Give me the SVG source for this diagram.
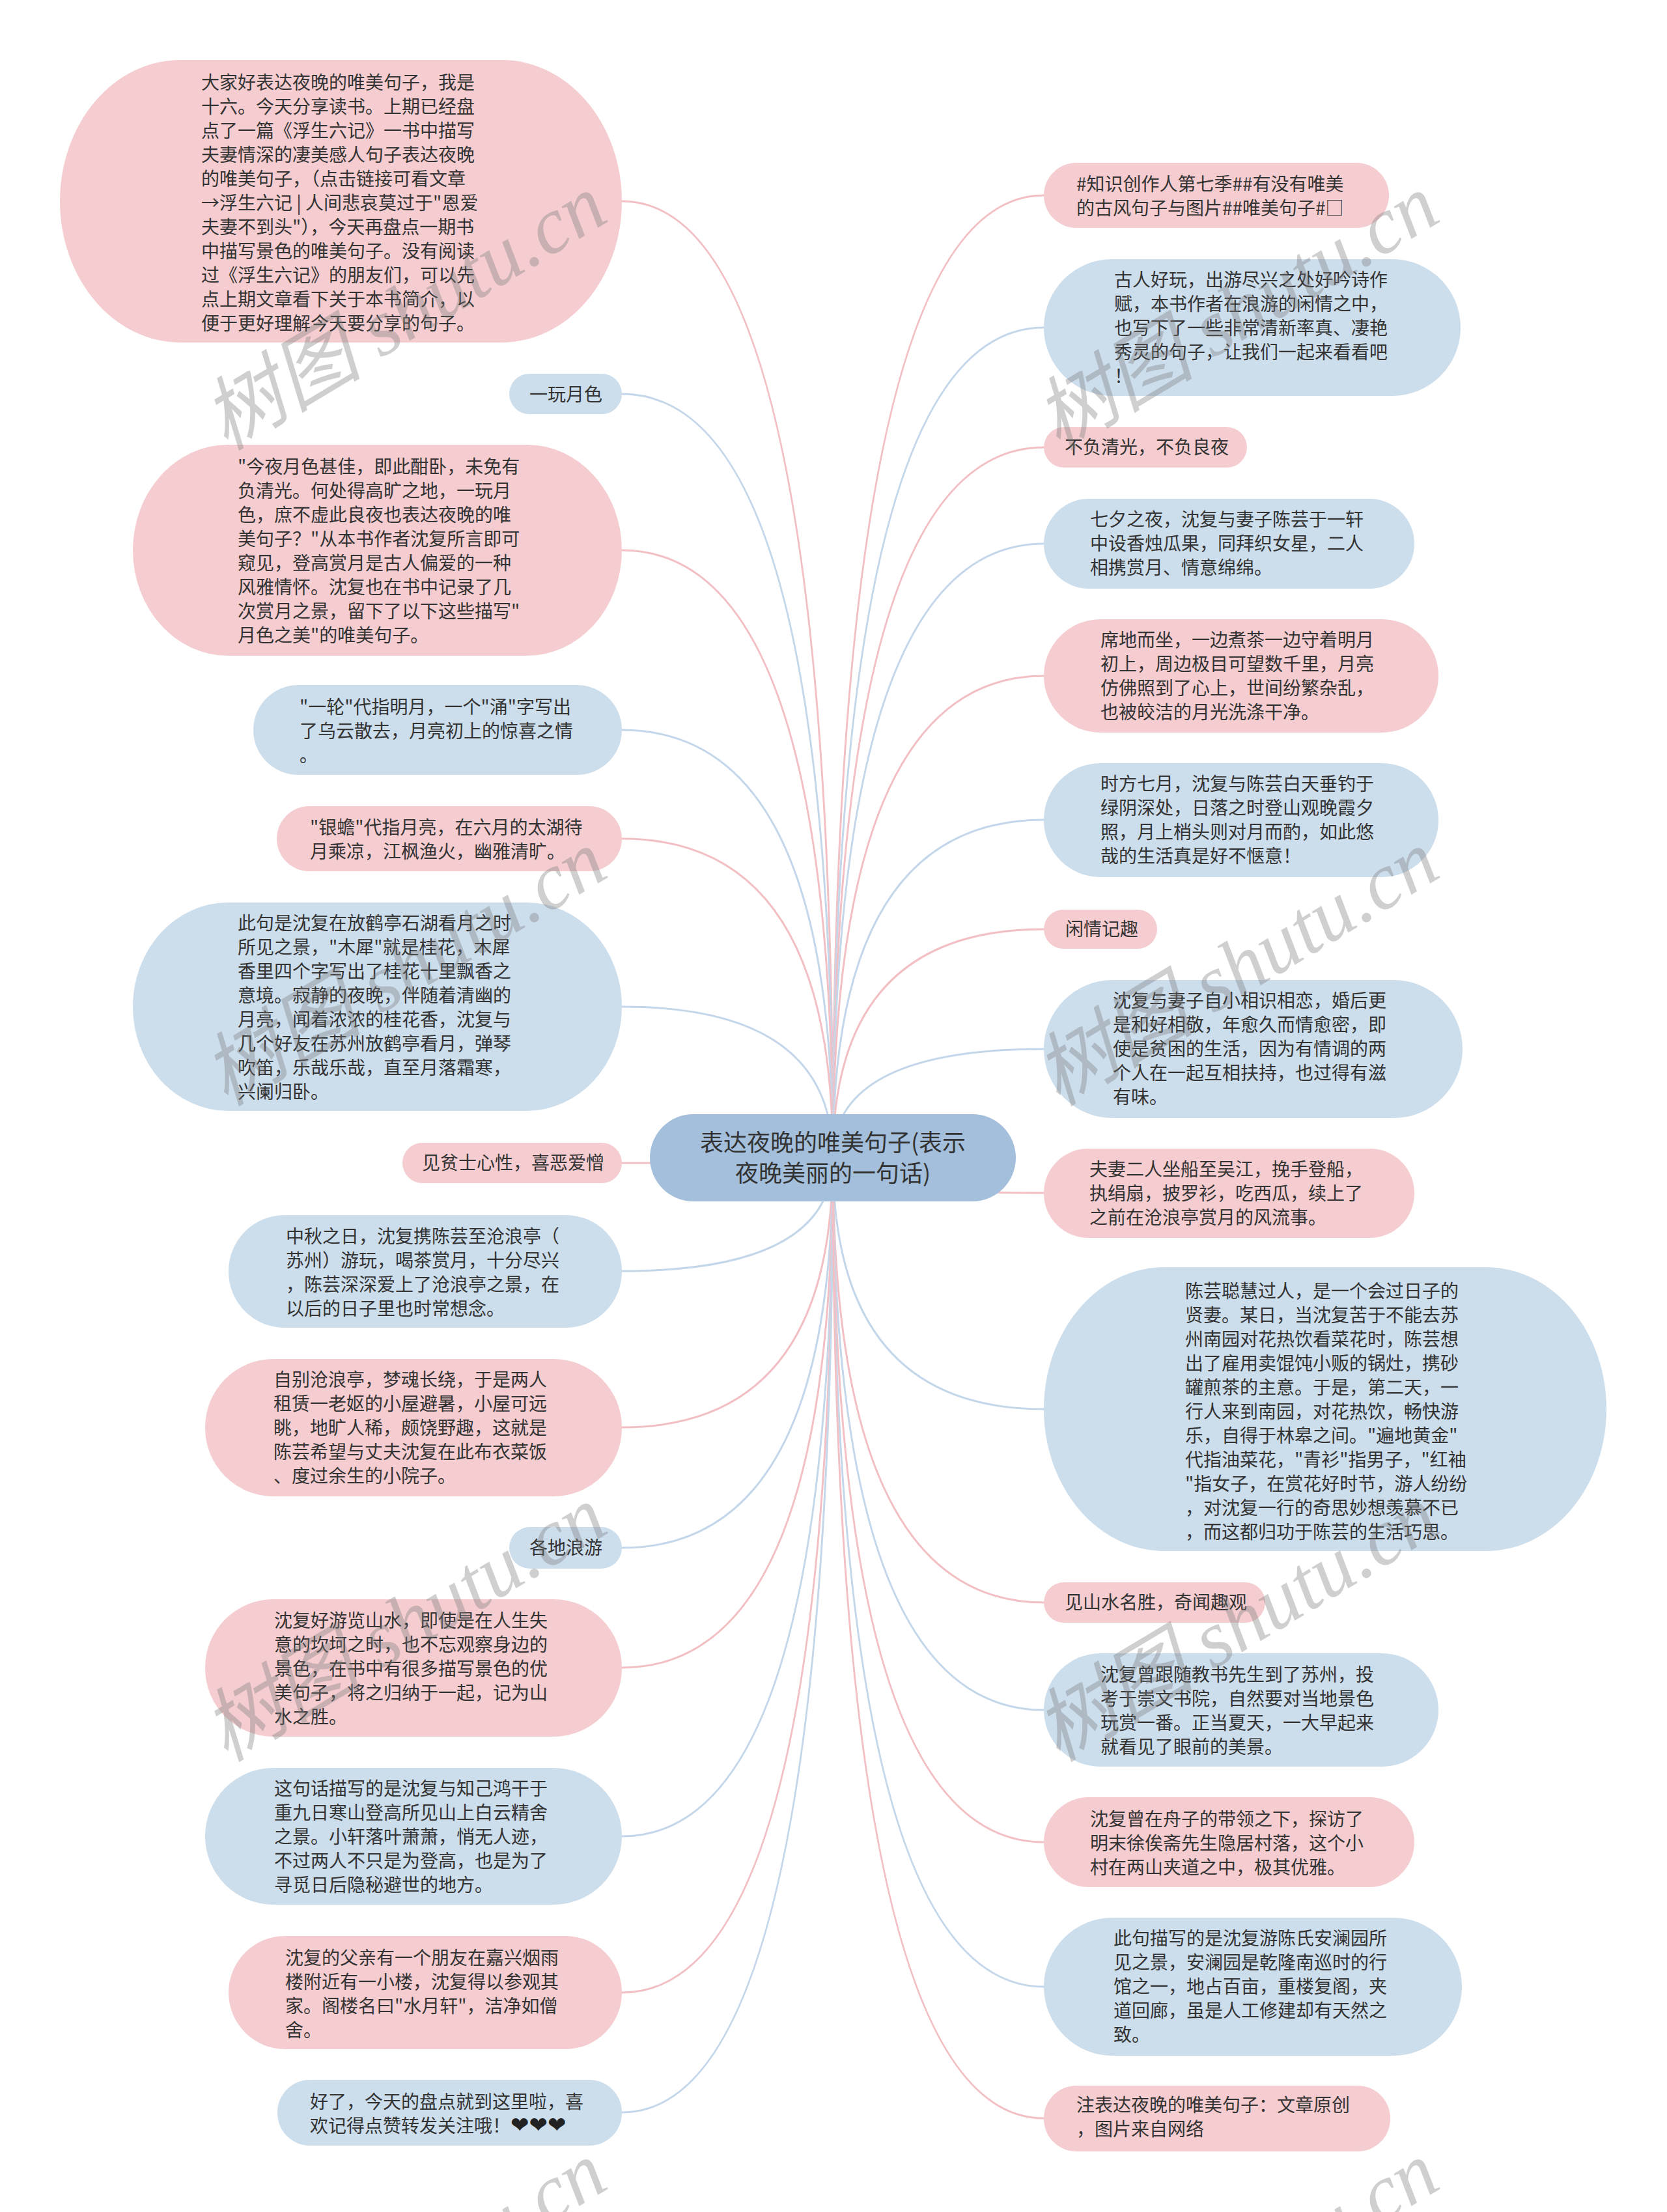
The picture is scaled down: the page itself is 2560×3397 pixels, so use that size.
<svg xmlns="http://www.w3.org/2000/svg" width="2560" height="3397" viewBox="0 0 2560 3397">
<style>
.pk{fill:#F5CDD0}
.bl{fill:#CCDDEC}
.ct{fill:#A3BFDB}
.t{font-family:"Noto Sans CJK SC","Noto Sans",sans-serif;font-size:28px;fill:#333}
.tc{font-family:"Noto Sans CJK SC","Noto Sans",sans-serif;font-size:36px;fill:#333;text-anchor:middle}
.hr{font-family:"DejaVu Sans",sans-serif;font-size:34px;fill:#222}
.c{fill:none;stroke-width:3}
.cp{stroke:#F2C0C4}
.cb{stroke:#C4D7EA}
.wm{font-family:"Liberation Serif","Noto Sans CJK SC",serif;font-size:123px;fill:#7a7a7a;fill-opacity:0.36;font-style:italic}
</style>
<rect width="2560" height="3397" fill="#ffffff"/>
<g id="connectors">
<path class="c cp" d="M1279 1778 Q1279 309 955 309"/>
<path class="c cb" d="M1279 1778 Q1279 605 955 605"/>
<path class="c cp" d="M1279 1778 Q1279 845 955 845"/>
<path class="c cb" d="M1279 1778 Q1279 1121 955 1121"/>
<path class="c cp" d="M1279 1778 Q1279 1288 955 1288"/>
<path class="c cb" d="M1279 1778 Q1279 1546 955 1546"/>
<path class="c cp" d="M1279 1778 Q1279 1786 955 1786"/>
<path class="c cb" d="M1279 1778 Q1279 1952 955 1952"/>
<path class="c cp" d="M1279 1778 Q1279 2192 955 2192"/>
<path class="c cb" d="M1279 1778 Q1279 2377 955 2377"/>
<path class="c cp" d="M1279 1778 Q1279 2561 955 2561"/>
<path class="c cb" d="M1279 1778 Q1279 2820 955 2820"/>
<path class="c cp" d="M1279 1778 Q1279 3060 955 3060"/>
<path class="c cb" d="M1279 1778 Q1279 3244 955 3244"/>
<path class="c cp" d="M1279 1778 Q1279 300 1603 300"/>
<path class="c cb" d="M1279 1778 Q1279 503 1603 503"/>
<path class="c cp" d="M1279 1778 Q1279 687 1603 687"/>
<path class="c cb" d="M1279 1778 Q1279 835 1603 835"/>
<path class="c cp" d="M1279 1778 Q1279 1038 1603 1038"/>
<path class="c cb" d="M1279 1778 Q1279 1259 1603 1259"/>
<path class="c cp" d="M1279 1778 Q1279 1427 1603 1427"/>
<path class="c cb" d="M1279 1778 Q1279 1611 1603 1611"/>
<path class="c cp" d="M1279 1778 Q1279 1832 1603 1832"/>
<path class="c cb" d="M1279 1778 Q1279 2164 1603 2164"/>
<path class="c cp" d="M1279 1778 Q1279 2461 1603 2461"/>
<path class="c cb" d="M1279 1778 Q1279 2626 1603 2626"/>
<path class="c cp" d="M1279 1778 Q1279 2829 1603 2829"/>
<path class="c cb" d="M1279 1778 Q1279 3051 1603 3051"/>
<path class="c cp" d="M1279 1778 Q1279 3253 1603 3253"/>
</g>
<g id="center">
<rect class="ct" x="998" y="1711" width="562" height="134" rx="67" ry="67"/>
<text class="tc"><tspan x="1279" y="1768">表达夜晚的唯美句子(表示</tspan><tspan x="1279" y="1815">夜晚美丽的一句话)</tspan></text>
</g>
<g id="L1">
<rect class="pk" x="92" y="92" width="863" height="434" rx="185" ry="217"/>
<text class="t"><tspan x="309" y="137">大家好表达夜晚的唯美句子，我是</tspan><tspan x="309" y="174">十六。今天分享读书。上期已经盘</tspan><tspan x="309" y="211">点了一篇《浮生六记》一书中描写</tspan><tspan x="309" y="248">夫妻情深的凄美感人句子表达夜晚</tspan><tspan x="309" y="285">的唯美句子，（点击链接可看文章</tspan><tspan x="309" y="322">→浮生六记 | 人间悲哀莫过于"恩爱</tspan><tspan x="309" y="359">夫妻不到头"），今天再盘点一期书</tspan><tspan x="309" y="396">中描写景色的唯美句子。没有阅读</tspan><tspan x="309" y="433">过《浮生六记》的朋友们，可以先</tspan><tspan x="309" y="470">点上期文章看下关于本书简介，以</tspan><tspan x="309" y="507">便于更好理解今天要分享的句子。</tspan></text>
</g>
<g id="L2">
<rect class="bl" x="782" y="574" width="173" height="62" rx="31"/>
<text class="t" x="813" y="616">一玩月色</text>
</g>
<g id="L3">
<rect class="pk" x="204" y="683" width="751" height="324" rx="146" ry="162"/>
<text class="t"><tspan x="365" y="727">"今夜月色甚佳，即此酣卧，未免有</tspan><tspan x="365" y="764">负清光。何处得高旷之地，一玩月</tspan><tspan x="365" y="801">色，庶不虚此良夜也表达夜晚的唯</tspan><tspan x="365" y="838">美句子？"从本书作者沈复所言即可</tspan><tspan x="365" y="875">窥见，登高赏月是古人偏爱的一种</tspan><tspan x="365" y="912">风雅情怀。沈复也在书中记录了几</tspan><tspan x="365" y="949">次赏月之景，留下了以下这些描写"</tspan><tspan x="365" y="986">月色之美"的唯美句子。</tspan></text>
</g>
<g id="L4">
<rect class="bl" x="389" y="1052" width="566" height="138" rx="69"/>
<text class="t"><tspan x="460" y="1096">"一轮"代指明月，一个"涌"字写出</tspan><tspan x="460" y="1133">了乌云散去，月亮初上的惊喜之情</tspan><tspan x="460" y="1170">。</tspan></text>
</g>
<g id="L5">
<rect class="pk" x="425" y="1238" width="530" height="100" rx="50"/>
<text class="t"><tspan x="476" y="1281">"银蟾"代指月亮，在六月的太湖待</tspan><tspan x="476" y="1318">月乘凉，江枫渔火，幽雅清旷。</tspan></text>
</g>
<g id="L6">
<rect class="bl" x="204" y="1386" width="751" height="320" rx="146" ry="160"/>
<text class="t"><tspan x="365" y="1428">此句是沈复在放鹤亭石湖看月之时</tspan><tspan x="365" y="1465">所见之景，"木犀"就是桂花，木犀</tspan><tspan x="365" y="1502">香里四个字写出了桂花十里飘香之</tspan><tspan x="365" y="1539">意境。寂静的夜晚，伴随着清幽的</tspan><tspan x="365" y="1576">月亮，闻着浓浓的桂花香，沈复与</tspan><tspan x="365" y="1613">几个好友在苏州放鹤亭看月，弹琴</tspan><tspan x="365" y="1650">吹笛，乐哉乐哉，直至月落霜寒，</tspan><tspan x="365" y="1687">兴阑归卧。</tspan></text>
</g>
<g id="L7">
<rect class="pk" x="618" y="1755" width="337" height="62" rx="31"/>
<text class="t" x="648" y="1796">见贫士心性，喜恶爱憎</text>
</g>
<g id="L8">
<rect class="bl" x="351" y="1866" width="604" height="173" rx="86"/>
<text class="t"><tspan x="439" y="1909">中秋之日，沈复携陈芸至沧浪亭（</tspan><tspan x="439" y="1946">苏州）游玩，喝茶赏月，十分尽兴</tspan><tspan x="439" y="1983">，陈芸深深爱上了沧浪亭之景，在</tspan><tspan x="439" y="2020">以后的日子里也时常想念。</tspan></text>
</g>
<g id="L9">
<rect class="pk" x="315" y="2087" width="640" height="211" rx="105"/>
<text class="t"><tspan x="420" y="2129">自别沧浪亭，梦魂长绕，于是两人</tspan><tspan x="420" y="2166">租赁一老妪的小屋避暑，小屋可远</tspan><tspan x="420" y="2203">眺，地旷人稀，颇饶野趣，这就是</tspan><tspan x="420" y="2240">陈芸希望与丈夫沈复在此布衣菜饭</tspan><tspan x="420" y="2277">、度过余生的小院子。</tspan></text>
</g>
<g id="L10">
<rect class="bl" x="782" y="2345" width="173" height="64" rx="32"/>
<text class="t" x="813" y="2387">各地浪游</text>
</g>
<g id="L11">
<rect class="pk" x="315" y="2456" width="640" height="211" rx="105"/>
<text class="t"><tspan x="421" y="2499">沈复好游览山水，即使是在人生失</tspan><tspan x="421" y="2536">意的坎坷之时，也不忘观察身边的</tspan><tspan x="421" y="2573">景色，在书中有很多描写景色的优</tspan><tspan x="421" y="2610">美句子，将之归纳于一起，记为山</tspan><tspan x="421" y="2647">水之胜。</tspan></text>
</g>
<g id="L12">
<rect class="bl" x="315" y="2715" width="640" height="210" rx="105"/>
<text class="t"><tspan x="421" y="2757">这句话描写的是沈复与知己鸿干于</tspan><tspan x="421" y="2794">重九日寒山登高所见山上白云精舍</tspan><tspan x="421" y="2831">之景。小轩落叶萧萧，悄无人迹，</tspan><tspan x="421" y="2868">不过两人不只是为登高，也是为了</tspan><tspan x="421" y="2905">寻觅日后隐秘避世的地方。</tspan></text>
</g>
<g id="L13">
<rect class="pk" x="351" y="2973" width="604" height="174" rx="87"/>
<text class="t"><tspan x="438" y="3017">沈复的父亲有一个朋友在嘉兴烟雨</tspan><tspan x="438" y="3054">楼附近有一小楼，沈复得以参观其</tspan><tspan x="438" y="3091">家。阁楼名曰"水月轩"，洁净如僧</tspan><tspan x="438" y="3128">舍。</tspan></text>
</g>
<g id="L14">
<rect class="bl" x="426" y="3194" width="529" height="101" rx="50"/>
<text class="t"><tspan x="476" y="3238">好了，今天的盘点就到这里啦，喜</tspan><tspan x="476" y="3275">欢记得点赞转发关注哦！<tspan class="hr">❤❤❤</tspan></tspan></text>
</g>
<g id="R1">
<rect class="pk" x="1603" y="250" width="530" height="100" rx="50"/>
<text class="t"><tspan x="1653" y="293">#知识创作人第七季##有没有唯美</tspan><tspan x="1653" y="330">的古风句子与图片##唯美句子#□</tspan></text>
</g>
<g id="R2">
<rect class="bl" x="1603" y="398" width="640" height="210" rx="105"/>
<text class="t"><tspan x="1711" y="440">古人好玩，出游尽兴之处好吟诗作</tspan><tspan x="1711" y="477">赋，本书作者在浪游的闲情之中，</tspan><tspan x="1711" y="514">也写下了一些非常清新率真、凄艳</tspan><tspan x="1711" y="551">秀灵的句子，让我们一起来看看吧</tspan><tspan x="1711" y="588">！</tspan></text>
</g>
<g id="R3">
<rect class="pk" x="1603" y="656" width="312" height="62" rx="31"/>
<text class="t" x="1635" y="697">不负清光，不负良夜</text>
</g>
<g id="R4">
<rect class="bl" x="1603" y="766" width="569" height="138" rx="69"/>
<text class="t"><tspan x="1674" y="808">七夕之夜，沈复与妻子陈芸于一轩</tspan><tspan x="1674" y="845">中设香烛瓜果，同拜织女星，二人</tspan><tspan x="1674" y="882">相携赏月、情意绵绵。</tspan></text>
</g>
<g id="R5">
<rect class="pk" x="1603" y="951" width="606" height="174" rx="87"/>
<text class="t"><tspan x="1690" y="993">席地而坐，一边煮茶一边守着明月</tspan><tspan x="1690" y="1030">初上，周边极目可望数千里，月亮</tspan><tspan x="1690" y="1067">仿佛照到了心上，世间纷繁杂乱，</tspan><tspan x="1690" y="1104">也被皎洁的月光洗涤干净。</tspan></text>
</g>
<g id="R6">
<rect class="bl" x="1603" y="1172" width="606" height="175" rx="87"/>
<text class="t"><tspan x="1690" y="1214">时方七月，沈复与陈芸白天垂钓于</tspan><tspan x="1690" y="1251">绿阴深处，日落之时登山观晚霞夕</tspan><tspan x="1690" y="1288">照，月上梢头则对月而酌，如此悠</tspan><tspan x="1690" y="1325">哉的生活真是好不惬意！</tspan></text>
</g>
<g id="R7">
<rect class="pk" x="1603" y="1397" width="174" height="60" rx="30"/>
<text class="t" x="1636" y="1437">闲情记趣</text>
</g>
<g id="R8">
<rect class="bl" x="1603" y="1505" width="643" height="212" rx="106"/>
<text class="t"><tspan x="1709" y="1547">沈复与妻子自小相识相恋，婚后更</tspan><tspan x="1709" y="1584">是和好相敬，年愈久而情愈密，即</tspan><tspan x="1709" y="1621">使是贫困的生活，因为有情调的两</tspan><tspan x="1709" y="1658">个人在一起互相扶持，也过得有滋</tspan><tspan x="1709" y="1695">有味。</tspan></text>
</g>
<g id="R9">
<rect class="pk" x="1603" y="1764" width="569" height="137" rx="68"/>
<text class="t"><tspan x="1673" y="1806">夫妻二人坐船至吴江，挽手登船，</tspan><tspan x="1673" y="1843">执绢扇，披罗衫，吃西瓜，续上了</tspan><tspan x="1673" y="1880">之前在沧浪亭赏月的风流事。</tspan></text>
</g>
<g id="R10">
<rect class="bl" x="1603" y="1946" width="864" height="436" rx="185" ry="218"/>
<text class="t"><tspan x="1820" y="1993">陈芸聪慧过人，是一个会过日子的</tspan><tspan x="1820" y="2030">贤妻。某日，当沈复苦于不能去苏</tspan><tspan x="1820" y="2067">州南园对花热饮看菜花时，陈芸想</tspan><tspan x="1820" y="2104">出了雇用卖馄饨小贩的锅灶，携砂</tspan><tspan x="1820" y="2141">罐煎茶的主意。于是，第二天，一</tspan><tspan x="1820" y="2178">行人来到南园，对花热饮，畅快游</tspan><tspan x="1820" y="2215">乐，自得于林皋之间。"遍地黄金"</tspan><tspan x="1820" y="2252">代指油菜花，"青衫"指男子，"红袖</tspan><tspan x="1820" y="2289">"指女子，在赏花好时节，游人纷纷</tspan><tspan x="1820" y="2326">，对沈复一行的奇思妙想羡慕不已</tspan><tspan x="1820" y="2363">，而这都归功于陈芸的生活巧思。</tspan></text>
</g>
<g id="R11">
<rect class="pk" x="1603" y="2430" width="340" height="62" rx="31"/>
<text class="t" x="1635" y="2471">见山水名胜，奇闻趣观</text>
</g>
<g id="R12">
<rect class="bl" x="1603" y="2539" width="606" height="174" rx="87"/>
<text class="t"><tspan x="1690" y="2582">沈复曾跟随教书先生到了苏州，投</tspan><tspan x="1690" y="2619">考于崇文书院，自然要对当地景色</tspan><tspan x="1690" y="2656">玩赏一番。正当夏天，一大早起来</tspan><tspan x="1690" y="2693">就看见了眼前的美景。</tspan></text>
</g>
<g id="R13">
<rect class="pk" x="1603" y="2760" width="569" height="138" rx="69"/>
<text class="t"><tspan x="1674" y="2804">沈复曾在舟子的带领之下，探访了</tspan><tspan x="1674" y="2841">明末徐俟斋先生隐居村落，这个小</tspan><tspan x="1674" y="2878">村在两山夹道之中，极其优雅。</tspan></text>
</g>
<g id="R14">
<rect class="bl" x="1603" y="2945" width="642" height="212" rx="106"/>
<text class="t"><tspan x="1710" y="2987">此句描写的是沈复游陈氏安澜园所</tspan><tspan x="1710" y="3024">见之景，安澜园是乾隆南巡时的行</tspan><tspan x="1710" y="3061">馆之一，地占百亩，重楼复阁，夹</tspan><tspan x="1710" y="3098">道回廊，虽是人工修建却有天然之</tspan><tspan x="1710" y="3135">致。</tspan></text>
</g>
<g id="R15">
<rect class="pk" x="1603" y="3203" width="532" height="101" rx="50"/>
<text class="t"><tspan x="1653" y="3243">注表达夜晚的唯美句子：文章原创</tspan><tspan x="1653" y="3280">，图片来自网络</tspan></text>
</g>
<g id="watermarks">
<text class="wm" transform="translate(347 693) rotate(-31)">树图 shutu.cn</text>
<text class="wm" transform="translate(1625 693) rotate(-31)">树图 shutu.cn</text>
<text class="wm" transform="translate(347 1700) rotate(-31)">树图 shutu.cn</text>
<text class="wm" transform="translate(1625 1700) rotate(-31)">树图 shutu.cn</text>
<text class="wm" transform="translate(347 2707) rotate(-31)">树图 shutu.cn</text>
<text class="wm" transform="translate(1625 2707) rotate(-31)">树图 shutu.cn</text>
<text class="wm" transform="translate(347 3714) rotate(-31)">树图 shutu.cn</text>
<text class="wm" transform="translate(1625 3714) rotate(-31)">树图 shutu.cn</text>
</g>
</svg>
